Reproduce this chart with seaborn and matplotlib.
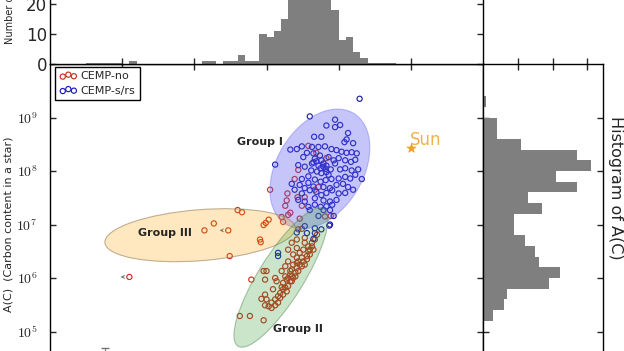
import numpy as np
import pandas as pd
import matplotlib
matplotlib.use("Agg")
import matplotlib.pyplot as plt
import seaborn as sns
from matplotlib.patches import Ellipse
from matplotlib.transforms import ScaledTranslation
from matplotlib.ticker import FuncFormatter

# CEMP-no stars: [Fe/H], A(C)
no_feh = [-1.42, -1.31, -1.17, -1.56, -1.61, -1.28, -1.33, -1.47, -1.57, -1.95, -1.71, -1.72, -1.74,
          -1.67, -1.79, -1.70, -1.19, -1.11, -1.77, -1.51, -1.54,
          -2.40, -2.34, -2.73, -2.86, -2.04, -2.01, -1.97, -2.09, -2.08, -2.51, -2.53, -3.90,
          -1.56, -1.51, -1.70, -1.65, -1.58, -1.63, -1.58, -1.70, -1.74, -1.79, -1.74, -1.58, -1.47,
          -1.47, -1.42, -1.37, -1.35, -1.40, -1.44, -1.47, -1.51, -1.58, -1.60, -1.63, -1.67, -1.70,
          -1.72, -1.77, -1.81, -1.84, -1.88, -1.93, -1.97, -2.00, -2.07, -2.02, -1.91, -1.86, -1.88,
          -2.02, -2.00, -2.04, -2.21, -2.37, -2.23, -2.04, -1.88, -1.93, -2.02, -1.49, -1.54, -1.42,
          -1.56, -1.51, -1.63, -1.56, -1.65, -1.67, -1.72, -1.77, -1.79, -1.65, -1.60, -1.58, -1.33,
          -1.30, -1.67, -1.54, -1.49, -1.44, -1.40, -1.37, -1.65, -1.70, -1.74, -1.77, -1.81, -1.84]
no_ac = [8.47, 8.34, 8.24, 8.02, 7.85, 7.70, 7.65, 7.51, 7.51, 7.65, 7.58, 7.45, 7.35,
         7.22, 7.14, 7.18, 7.15, 7.16, 7.05, 7.35, 7.11,
         7.27, 7.23, 7.02, 6.89, 6.99, 7.03, 7.09, 6.72, 6.67, 6.41, 6.89, 6.02,
         6.91, 6.92, 6.53, 6.66, 6.56, 6.44, 6.38, 6.31, 6.22, 6.13, 6.03, 6.72, 6.75,
         6.66, 6.59, 6.66, 6.53, 6.44, 6.35, 6.25, 6.22, 6.19, 6.10, 6.00, 5.94, 5.85,
         5.75, 5.79, 5.72, 5.66, 5.60, 5.54, 5.47, 5.60, 5.61, 5.69, 5.79, 5.94, 6.00,
         5.97, 6.13, 6.13, 5.97, 5.29, 5.29, 5.21, 5.49, 5.44, 5.49, 6.53, 6.47, 6.50,
         6.31, 6.38, 6.25, 6.13, 6.16, 6.07, 5.97, 5.91, 5.83, 5.94, 6.03, 6.28, 6.72,
         6.81, 6.13, 6.25, 6.31, 6.41, 6.53, 6.59, 6.03, 6.00, 5.82, 5.69, 5.63, 5.54]

# CEMP-s/rs stars: [Fe/H], A(C)
s_feh = [-0.71, -1.40, -1.05, -1.17, -1.05, -0.98, -0.87, -1.34, -1.24, -0.92, -0.89, -0.80, -1.67,
         -1.58, -1.51, -1.37, -1.28, -1.19, -1.10, -1.03, -0.96, -0.89, -0.82, -1.44, -1.35, -1.26,
         -1.49, -1.33, -1.24, -1.14, -1.07, -1.00, -0.91, -0.83, -0.75, -1.88, -1.56, -1.47, -1.37,
         -1.28, -1.21, -1.17, -1.11, -1.38, -1.30, -1.24, -1.14, -0.91, -0.82, -0.73, -0.77, -0.68,
         -1.51, -1.42, -1.33, -1.25, -1.18, -1.10, -1.00, -0.91, -0.84, -1.65, -1.54, -1.47, -1.35,
         -1.21, -1.12, -1.03, -0.94, -0.87, -0.80, -1.51, -1.40, -1.31, -1.24, -1.17, -1.09, -1.00,
         -1.56, -1.47, -1.33, -1.21, -1.12, -1.03, -1.42, -1.33, -1.25, -1.17, -1.09, -1.40, -1.21,
         -1.12, -1.47, -1.33, -1.24, -1.13, -1.21, -1.18, -1.25, -1.31, -1.35, -1.17, -1.05, -1.42,
         -0.98, -1.61, -1.07, -1.28, -0.91, -0.77, -1.44, -1.33, -1.35, -1.84, -1.84, -1.58, -1.12]
s_ac = [9.35, 9.02, 8.96, 8.85, 8.82, 8.86, 8.71, 8.64, 8.64, 8.54, 8.59, 8.52, 8.40,
        8.41, 8.46, 8.45, 8.45, 8.46, 8.41, 8.39, 8.36, 8.34, 8.35, 8.34, 8.33, 8.29,
        8.26, 8.23, 8.20, 8.26, 8.20, 8.24, 8.20, 8.17, 8.33, 8.12, 8.11, 8.08, 8.14,
        8.10, 8.08, 8.10, 8.03, 8.01, 7.99, 7.96, 7.93, 8.05, 8.01, 8.03, 7.93, 7.85,
        7.85, 7.90, 7.84, 7.80, 7.83, 7.85, 7.86, 7.89, 7.86, 7.76, 7.74, 7.68, 7.71,
        7.70, 7.68, 7.74, 7.76, 7.70, 7.65, 7.58, 7.64, 7.61, 7.55, 7.59, 7.64, 7.58,
        7.46, 7.43, 7.49, 7.45, 7.43, 7.46, 7.33, 7.37, 7.33, 7.34, 7.37, 7.27, 7.27,
        7.27, 6.97, 6.93, 6.91, 6.98, 8.14, 8.04, 8.05, 8.18, 8.16, 7.98, 8.14, 7.78,
        8.03, 7.65, 7.16, 7.16, 7.59, 8.21, 6.84, 6.84, 6.73, 6.47, 6.41, 6.85, 7.00]

# stars with upper limits in [Fe/H]
lim_feh = [-2.53, -3.90]
lim_ac = [6.89, 6.02]
# star below the visible range, with A(C) error bar
err_feh = [-4.24]
err_ac = [4.45]
err_size = [0.24]

sun_feh, sun_ac = 0.0, 8.43

# top histogram: [Fe/H] bins (width 0.1), left edges -4.5 ... -0.3
feh_left = [round(-4.5 + 0.1 * i, 2) for i in range(43)]
feh_counts = [0.5, 0.5, 0.5, 0.5, 0.5, 0, 1, 0, 0, 0, 0, 0, 0, 0, 0, 0,
              1, 1, 0, 1, 1, 3, 1, 1, 10, 9, 11, 15, 22, 26, 30, 28, 25, 22,
              18, 8, 9, 4, 2, 0.5, 0.5, 0.5, 0.5]
# right histogram: A(C) bins (width 0.2), bottom edges 5.2 ... 9.2
ac_low = [round(5.2 + 0.2 * i, 2) for i in range(21)]
ac_counts = [3, 6, 7, 19, 22, 16, 15, 12, 9, 9, 17, 13, 27, 21, 31, 27, 11, 4, 4, 0, 1]

# group ellipses: centre ([Fe/H], A(C)), size in inches, angle
groups = ["Group I", "Group III", "Group II"]
ell_center = [(-1.26, 8.04), (-2.92, 6.80), (-1.80, 6.01)]
ell_size = [(1.30, 0.86), (1.91, 0.51), (1.62, 0.45)]
ell_angle = [58.5, 4.5, 58.0]
ell_face = [(0.35, 0.35, 0.95, 0.35), (1.0, 0.65, 0.0, 0.25), (0.2, 0.6, 0.2, 0.25)]
ell_edge = [(0.35, 0.35, 0.95, 0.35), (0.6, 0.5, 0.35, 0.6), (0.35, 0.55, 0.35, 0.5)]
label_pos = [(-2.09, 8.54), (-3.41, 6.84), (-1.56, 5.05)]

RED = "#c8321e"
BLUE = "#1c1cb4"
GRAY = "#7f7f7f"

top_df = pd.DataFrame({"feh": [v + 0.05 for v in feh_left], "n": feh_counts})
top_bins = feh_left + [-0.2]
right_df = pd.DataFrame({"ac": [v + 0.1 for v in ac_low], "n": ac_counts})
right_bins = ac_low + [9.4]

sns.set_style("ticks")
plt.rcParams["font.family"] = ["DejaVu Sans"]
plt.rcParams["mathtext.fontset"] = "cm"
plt.rcParams["axes.linewidth"] = 1.0

W, H = 624, 351
fig = plt.figure(figsize=(W / 100, H / 100), dpi=100)
ax = fig.add_axes([50 / W, 1 - 385 / H, 433 / W, 321 / H])
ax_top = fig.add_axes([50 / W, 1 - 64 / H, 433 / W, 120 / H])
ax_r = fig.add_axes([483 / W, 1 - 385 / H, 120 / W, 321 / H])

# scatter
sns.scatterplot(x=no_feh, y=no_ac, ax=ax, marker="o", s=14, facecolors="none",
                edgecolors=RED, linewidth=0.85, label="CEMP-no", zorder=2)
sns.scatterplot(x=s_feh, y=s_ac, ax=ax, marker="o", s=14, facecolors="none",
                edgecolors=BLUE, linewidth=0.85, label="CEMP-s/rs", zorder=2)

for x, y in zip(lim_feh, lim_ac):
    ax.annotate("", xy=(x - 0.16, y), xytext=(x - 0.04, y),
                arrowprops=dict(arrowstyle="->", color="0.45", lw=0.7, mutation_scale=5))
ax.errorbar(err_feh, err_ac, yerr=err_size, fmt="none", ecolor="0.45", capsize=3, elinewidth=0.8)

# group ellipses
for c, sz, ang, fc, ec in zip(ell_center, ell_size, ell_angle, ell_face, ell_edge):
    tr = fig.dpi_scale_trans + ScaledTranslation(c[0], c[1], ax.transData)
    ax.add_patch(Ellipse((0, 0), sz[0], sz[1], angle=ang, transform=tr,
                         facecolor=fc, edgecolor=ec, lw=0.8, zorder=3))
for name, (x, y) in zip(groups, label_pos):
    ax.text(x, y, name, fontsize=8, fontweight="bold", ha="center", va="center", zorder=5)

# Sun
sns.scatterplot(x=[sun_feh], y=[sun_ac], ax=ax, marker="*", s=45, color="#f0a020",
                edgecolor="#f0a020", zorder=5)
ax.text(sun_feh - 0.01, sun_ac + 0.15, "Sun", color="#f2b24a", fontsize=12, va="center", ha="left")

ax.set_xlim(-5, 1)
ax.set_ylim(4, 10)
ax.set_xticks([-4, -3, -2, -1, 0])
ax.set_yticks([5, 6, 7, 8, 9])
ax.yaxis.set_major_formatter(FuncFormatter(lambda v, p: r"$10^{%d}$" % v))
ax.tick_params(direction="in", top=True, right=True, length=4, width=1,
               labelbottom=False, labelsize=10, pad=9)
ax.set_xlabel("")
ax.set_ylabel("A(C)  (Carbon content in a star)", fontsize=8)
ax.yaxis.set_label_coords(-0.085, 0.5)
leg = ax.legend(loc="upper left", bbox_to_anchor=(0.0115, 0.991), borderaxespad=0,
                scatterpoints=3, scatteryoffsets=[0.35, 0.6, 0.4], fontsize=8,
                frameon=True, fancybox=False, framealpha=1, edgecolor="black",
                handletextpad=0.3, borderpad=0.4, labelspacing=0.4, handlelength=1.6)
leg.get_frame().set_linewidth(1.0)

# top histogram
sns.histplot(data=top_df, x="feh", weights="n", bins=top_bins,
             ax=ax_top, color=GRAY, edgecolor="none", alpha=1)
ax_top.set_xlim(-5, 1)
ax_top.set_ylim(0, 40)
ax_top.set_xticks([-4, -3, -2, -1, 0])
ax_top.set_yticks([0, 10, 20])
ax_top.tick_params(direction="in", top=True, right=True, length=4, width=1,
                   labelbottom=False, labelsize=12, pad=2)
ax_top.set_xlabel("")
ax_top.set_ylabel("Number of stars", fontsize=7)
ax_top.yaxis.set_label_coords(-0.081, 0.5)

# right histogram
sns.histplot(data=right_df, y="ac", weights="n", bins=right_bins,
             ax=ax_r, color=GRAY, edgecolor="none", alpha=1)
ax_r.set_ylim(4, 10)
ax_r.set_xlim(0, 34.5)
ax_r.set_xticks([10, 20, 30])
ax_r.set_yticks([5, 6, 7, 8, 9])
ax_r.tick_params(direction="in", top=True, right=True, left=True, length=4, width=1,
                 labelleft=False, labelbottom=False)
ax_r.tick_params(axis="x", direction="inout", length=8)
ax_r.set_xlabel("")
ax_r.set_ylabel("")
fig.text(615 / W, 1 - 188 / H, "Histogram of A(C)", rotation=270, fontsize=11.5,
         ha="center", va="center")

for a in (ax, ax_top, ax_r):
    for s in a.spines.values():
        s.set_color("black")
        s.set_linewidth(1.0)

fig.savefig("out.png", dpi=100)
